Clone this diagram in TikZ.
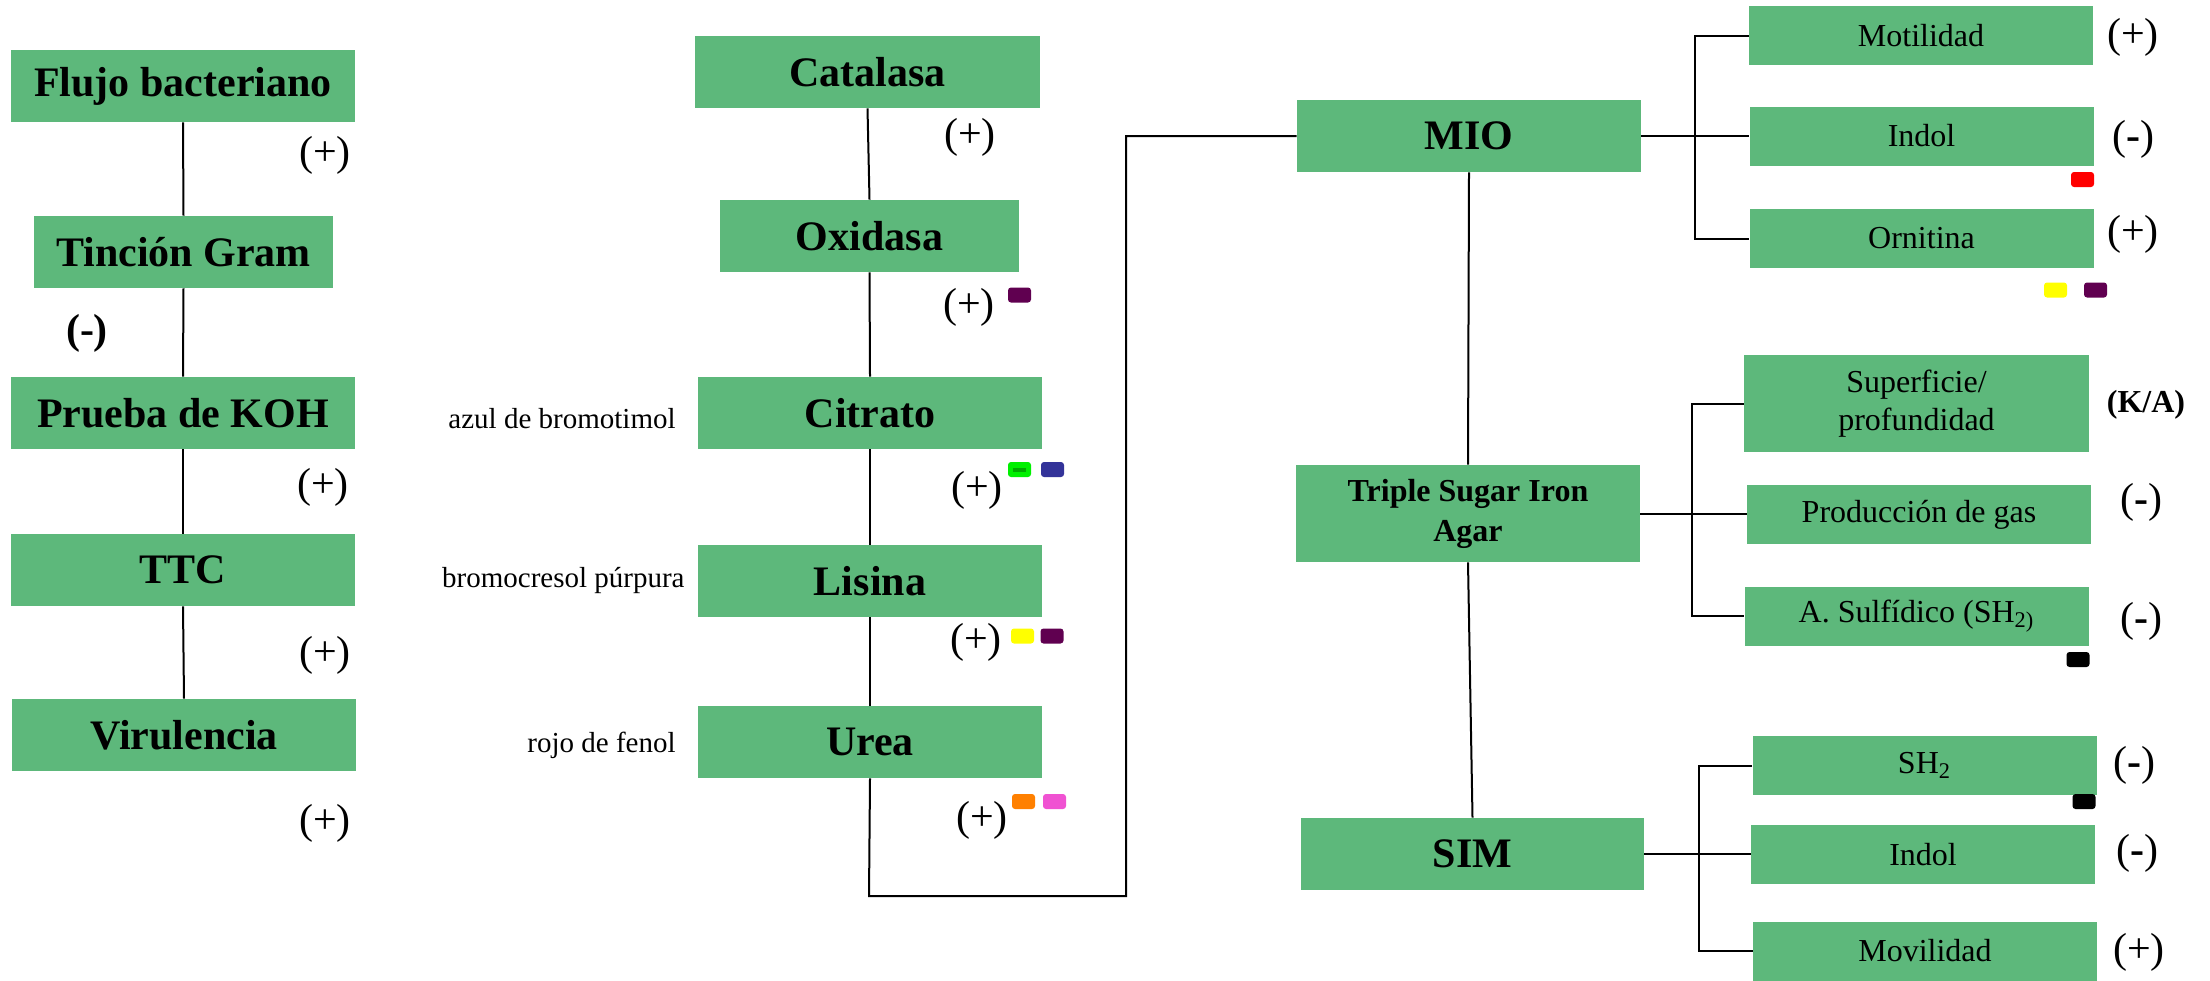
\documentclass[tikz,border=0pt]{standalone}
\usepackage{fontspec}
\setmainfont{Liberation Serif}
\definecolor{boxgreen}{RGB}{93,184,123}
\definecolor{cpurple}{RGB}{96,0,80}
\definecolor{cgreen}{RGB}{0,240,0}
\definecolor{cgreendk}{RGB}{0,170,0}
\definecolor{cblue}{RGB}{51,51,153}
\definecolor{cyellow}{RGB}{255,255,0}
\definecolor{corange}{RGB}{255,128,0}
\definecolor{cpink}{RGB}{240,82,210}
\definecolor{cred}{RGB}{255,0,0}
\tikzset{
  box/.style={fill=boxgreen, draw=none, inner sep=0pt, align=center, text=black},
  big/.style={font=\fontsize{21}{24}\selectfont\bfseries},
  tsifont/.style={font=\fontsize{16}{20}\selectfont\bfseries},
  subt/.style={font=\fontsize{16}{19}\selectfont},
  sgn/.style={font=\fontsize{21}{24}\selectfont, inner sep=0pt},
  reag/.style={font=\fontsize{14.5}{17}\selectfont, inner sep=0pt},
  conn/.style={line width=1pt, black},
  chip/.style={rounded corners=1.5pt, inner sep=0pt, minimum width=11.5pt, minimum height=7.5pt, draw=none},
  lw/.style={minimum width=172pt, minimum height=36pt},
  rw/.style={minimum width=172pt, minimum height=29.5pt}
}
\newcommand{\mn}{(\textbf{-})}
\begin{document}
\begin{tikzpicture}[x=0.5pt,y=-0.5pt]
\useasboundingbox (0,0) rectangle (2210,980);
% left column
\node[box,big,lw] (flujo) at (183,86) {Flujo bacteriano};
\node[box,big,minimum width=149.5pt,minimum height=36pt] (tincion) at (183.5,252) {Tinción Gram};
\node[box,big,lw] (koh) at (183,413) {Prueba de KOH};
\node[box,big,lw] (ttc) at (183,570) {TTC};
\node[box,big,lw] (viru) at (184,735) {Virulencia};
\node[sgn] (s1) at (325,155) {(+)};
\node[sgn,font=\fontsize{21}{24}\selectfont\bfseries] (s2) at (87,333) {(-)};
\node[sgn] (s3) at (323,487) {(+)};
\node[sgn] (s4) at (325,655) {(+)};
\node[sgn] (s5) at (325,823) {(+)};
\draw[conn] (flujo.south) -- (tincion.north);
\draw[conn] (tincion.south) -- (koh.north);
\draw[conn] (koh.south) -- (ttc.north);
\draw[conn] (ttc.south) -- (viru.north);
% middle column
\node[box,big,minimum width=172.5pt,minimum height=36pt] (catal) at (867.5,72) {Catalasa};
\node[box,big,minimum width=149.5pt,minimum height=36pt] (oxid) at (869.5,236) {Oxidasa};
\node[box,big,lw] (citr) at (870,413) {Citrato};
\node[box,big,lw] (lisina) at (870,581) {Lisina};
\node[box,big,lw] (urea) at (870,742) {Urea};
\node[reag,anchor=east] (r1) at (676,419) {azul de bromotimol};
\node[reag,anchor=east] (r2) at (685,580) {bromocresol púrpura};
\node[reag,anchor=east] (r3) at (676,745) {rojo de fenol};
\node[sgn] (m1) at (970,137) {(+)};
\node[sgn] (m2) at (969,307) {(+)};
\node[sgn] (m3) at (977,490) {(+)};
\node[sgn] (m4) at (976,642) {(+)};
\node[sgn] (m5) at (982,820) {(+)};
\node[chip,fill=cpurple] (c1) at (1019.5,295) {};
\node[chip,fill=cgreen] (c2) at (1019.5,469.5) {};
\fill[cgreendk] (1013,467.5) rectangle (1026,471.5);
\node[chip,fill=cblue] (c3) at (1052.5,469.5) {};
\node[chip,fill=cyellow] (c4) at (1022.5,636) {};
\node[chip,fill=cpurple] (c5) at (1052,636) {};
\node[chip,fill=corange] (c6) at (1023.5,801.5) {};
\node[chip,fill=cpink] (c7) at (1054.5,801.5) {};
\draw[conn] (catal.south) -- (oxid.north);
\draw[conn] (oxid.south) -- (citr.north);
\draw[conn] (citr.south) -- (lisina.north);
\draw[conn] (lisina.south) -- (urea.north);
\coordinate (ub) at (869,896);
\coordinate (ur) at (1126,896);
% right column
\node[box,big,lw] (mio) at (1469,136) {MIO};
\node[box,tsifont,minimum width=172pt,minimum height=48.5pt] (tsi) at (1468,513.5) {Triple Sugar Iron\\Agar};
\node[box,big,minimum width=171.5pt,minimum height=36pt] (sim) at (1472.5,854) {SIM};
\draw[conn] (urea.south) -- (ub) -- (ur) |- (mio.west);
\draw[conn] (mio.south) -- (tsi.north);
\draw[conn] (tsi.south) -- (sim.north);
\node[box,subt,rw] (motil) at (1921,35.5) {Motilidad};
\node[box,subt,rw] (indolA) at (1921.5,136) {Indol};
\node[box,subt,rw] (ornit) at (1921.5,238.5) {Ornitina};
\node[box,subt,minimum width=172.5pt,minimum height=48.5pt] (superf) at (1916.5,403.5) {Superficie/\\profundidad};
\node[box,subt,rw] (prod) at (1919,514.5) {Producción de gas};
\node[box,subt,rw] (sulf) at (1916.5,616) {A. Sulfídico (SH\textsubscript{2)}};
\node[box,subt,rw] (sh2) at (1924.5,765.5) {SH\textsubscript{2}};
\node[box,subt,rw] (indolB) at (1923,854.5) {Indol};
\node[box,subt,rw] (movil) at (1925,951) {Movilidad};
\node[sgn] (t1) at (2133,37) {(+)};
\node[sgn] (t2) at (2133,139) {\mn};
\node[sgn] (t3) at (2133,234) {(+)};
\node[sgn,font=\fontsize{16}{19}\selectfont\bfseries] (t4) at (2146,405) {(K/A)};
\node[sgn] (t5) at (2141,502) {\mn};
\node[sgn] (t6) at (2141,621) {\mn};
\node[sgn] (t7) at (2134,765) {\mn};
\node[sgn] (t8) at (2137,853) {\mn};
\node[sgn] (t9) at (2139,952) {(+)};
\node[chip,fill=cred] (c8) at (2082.5,179.5) {};
\node[chip,fill=cyellow] (c9) at (2055.5,290) {};
\node[chip,fill=cpurple] (c10) at (2095.5,290) {};
\node[chip,fill=black] (c11) at (2078,659.5) {};
\node[chip,fill=black] (c12) at (2084,801.5) {};
% branches
\coordinate (bm) at (1695,136);
\coordinate (bt) at (1692,514);
\coordinate (bs) at (1699,854);
\draw[conn] (mio.east) -- (indolA.west);
\draw[conn] (motil.west) -| (bm) |- (ornit.west);
\draw[conn] (tsi.east) -- (tsi.east -| prod.west);
\draw[conn] (superf.west) -| (bt) |- (sulf.west);
\draw[conn] (sim.east) -- (sim.east -| indolB.west);
\draw[conn] (sh2.west) -| (bs) |- (movil.west);
\end{tikzpicture}
\end{document}
